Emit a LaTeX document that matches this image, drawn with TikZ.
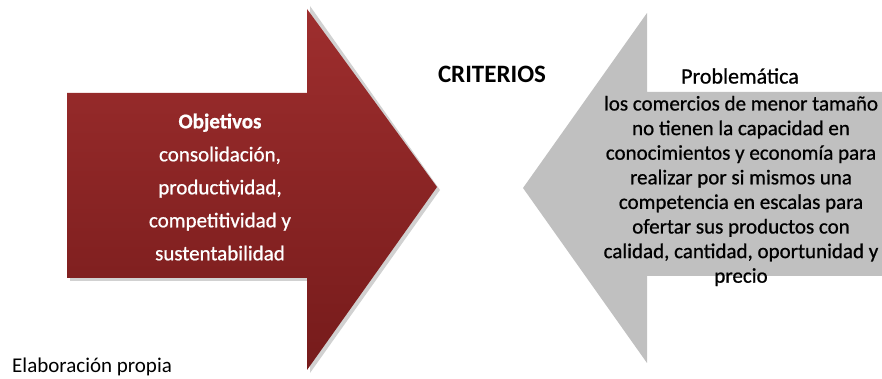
\documentclass[tikz,border=0pt]{standalone}
\usepackage{fontspec}
\setmainfont{Carlito}
\newfontfamily\thickfont[FakeBold=0.8]{Carlito}
\usetikzlibrary{shadings}
\definecolor{redtop}{RGB}{158,46,46}
\definecolor{redbot}{RGB}{118,27,27}
\definecolor{grayarrow}{RGB}{192,192,192}
\tikzset{
  lefttext/.style={text=white, align=center, font=\thickfont\fontsize{21}{33}\selectfont, inner sep=0pt},
  righttext/.style={text=black, align=center, font=\thickfont\fontsize{21}{24.6}\selectfont, inner sep=0pt},
  probtext/.style={text=black, font=\thickfont\fontsize{22}{26}\selectfont, inner sep=0pt},
  headtext/.style={text=black, font=\bfseries\fontsize{25}{30}\selectfont, inner sep=0pt},
  plaintext/.style={text=black, font=\fontsize{21}{25}\selectfont, inner sep=0pt, anchor=west},
}
\begin{document}
\begin{tikzpicture}[x=1pt,y=1pt]
\useasboundingbox (0,0) rectangle (882,379);
% shadow of red arrow
\fill[black!18] (70,98) -- (310,98) -- (310,6) -- (440,189) -- (310,373) -- (310,282) -- (70,282) -- cycle;
% red arrow
\shade[top color=redtop, bottom color=redbot]
  (67,101) -- (307,101) -- (307,9) -- (437,192) -- (307,370) -- (307,286) -- (67,286) -- cycle;
% gray arrow
\fill[grayarrow]
  (882,287) -- (647,287) -- (647,366) -- (523,191) -- (647,16) -- (647,103) -- (882,103) -- cycle;
% texts
\node[lefttext] (obj) at (220,192) {\textbf{Objetivos}\\consolidación,\\productividad,\\competitividad y\\sustentabilidad};
\node[headtext] (crit) at (492,305) {CRITERIOS};
\node[probtext] (prob) at (740,303) {Problemática};
\node[righttext] (probtxt) at (741,188) {los comercios de menor tamaño\\no tienen la capacidad en\\conocimientos y economía para\\realizar por si mismos una\\competencia en escalas para\\ofertar sus productos con\\calidad, cantidad, oportunidad y\\precio};
\node[plaintext] (src) at (12,12) {Elaboración propia};
\end{tikzpicture}
\end{document}
